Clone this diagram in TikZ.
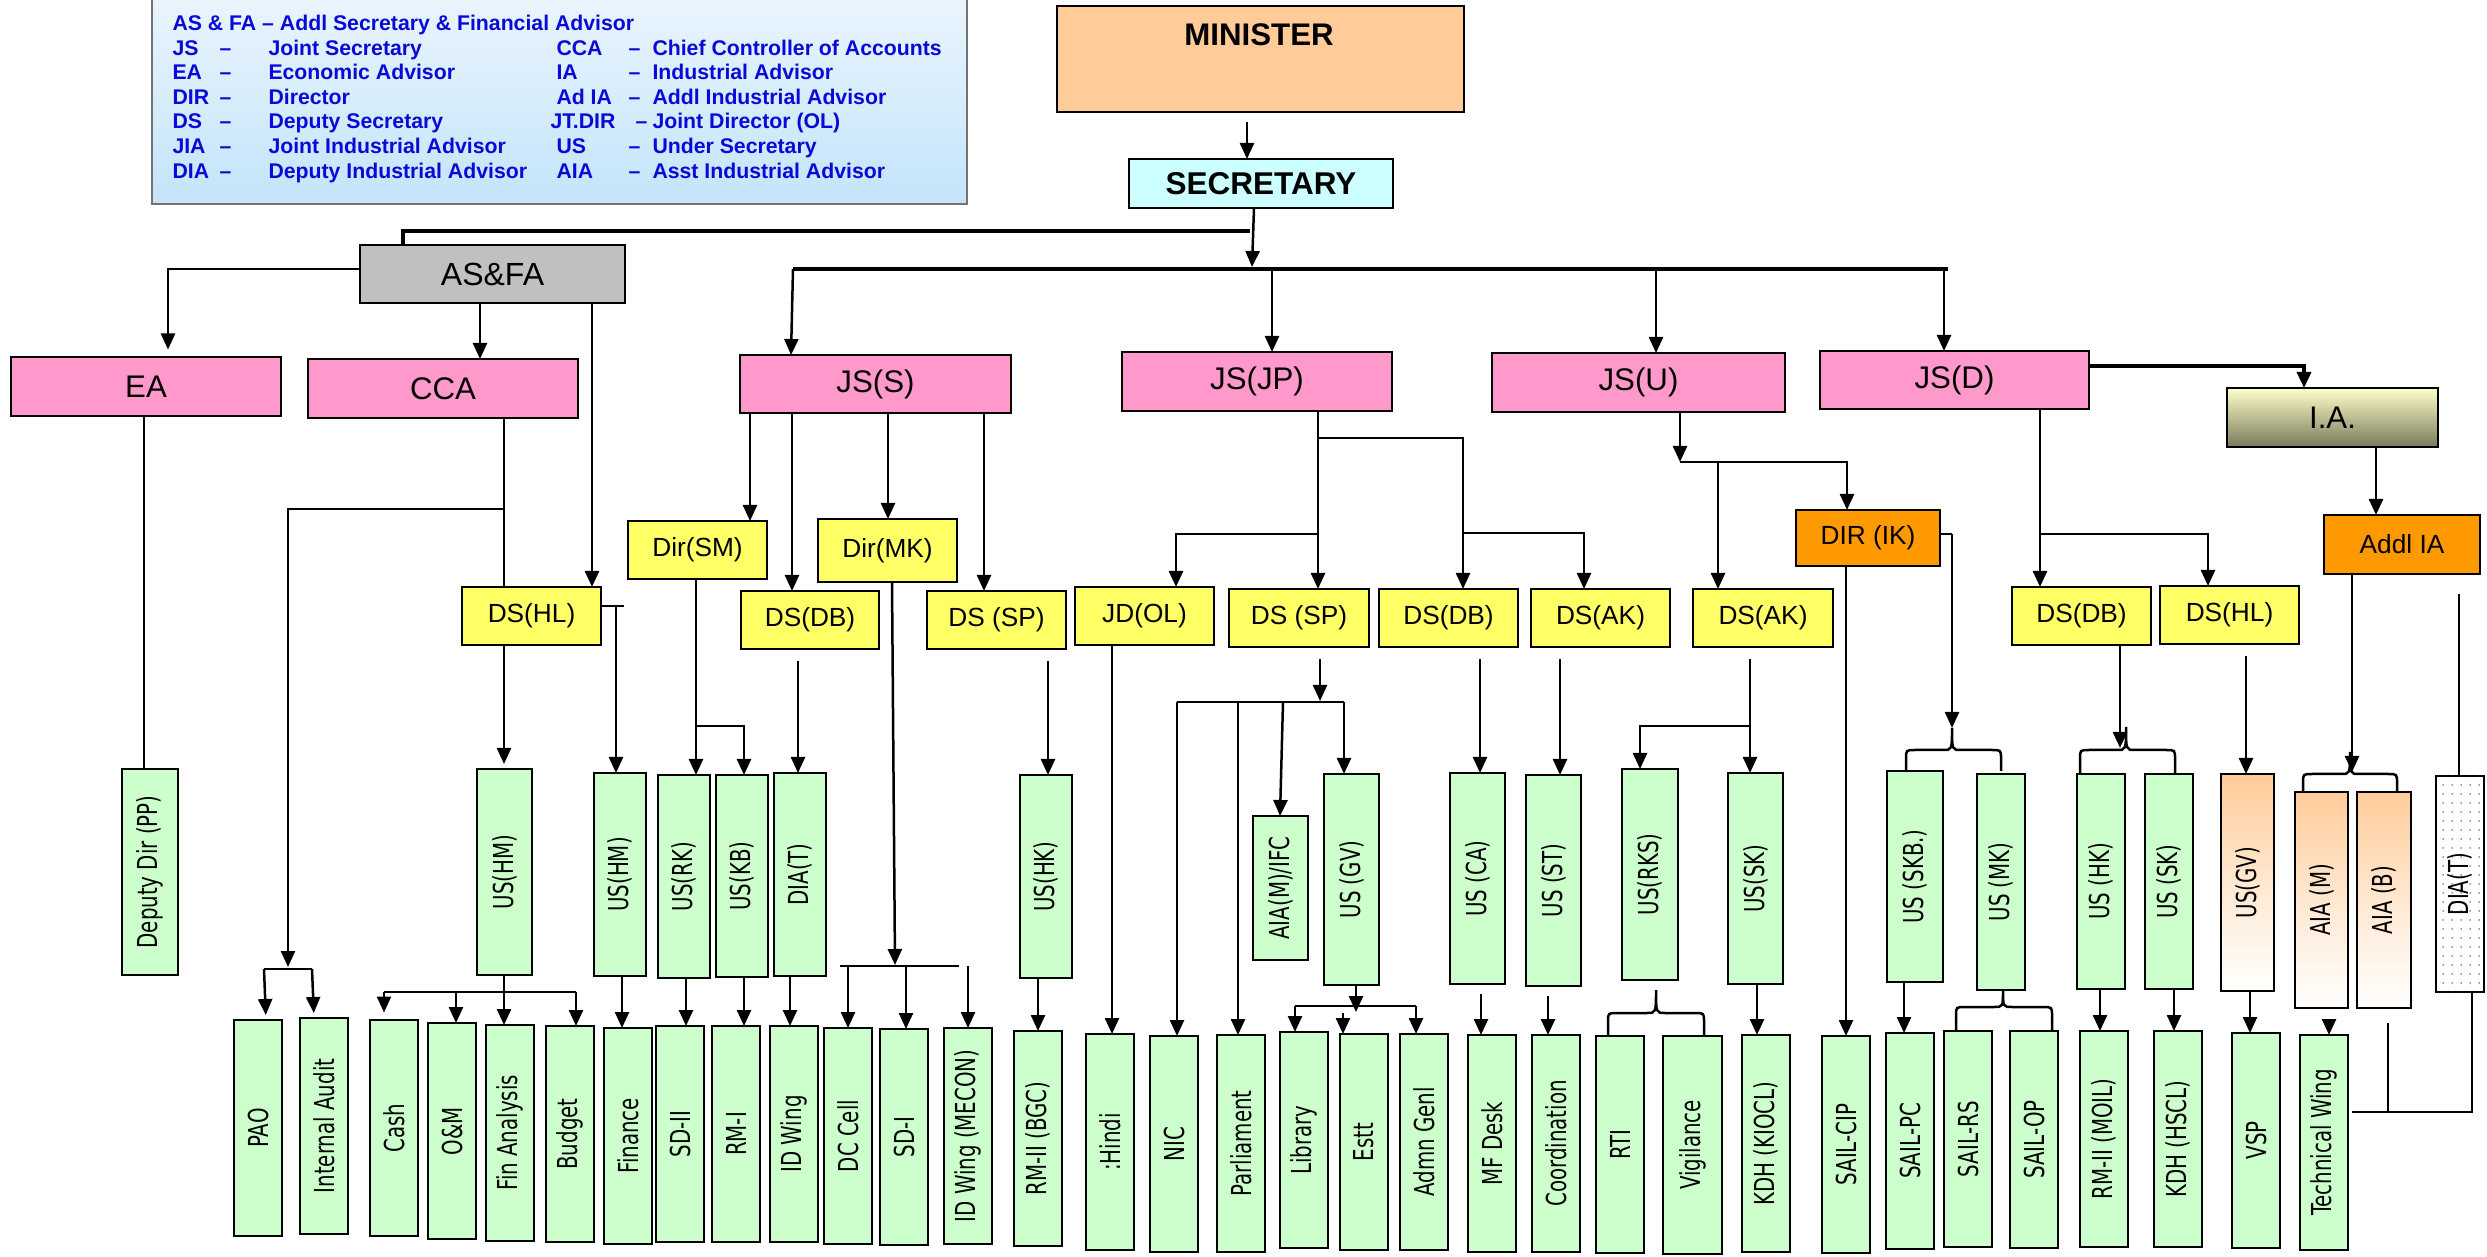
\documentclass[tikz,border=0pt]{standalone}
\usepackage{fontspec}
\setmainfont{Liberation Sans}
\newfontfamily\dejavu{DejaVu Sans}
\usetikzlibrary{arrows.meta,patterns}
\definecolor{pinkc}{HTML}{FF99CC}
\definecolor{yelc}{HTML}{FFFF66}
\definecolor{grnc}{HTML}{CCFFCC}
\definecolor{orgc}{HTML}{FF9900}
\definecolor{peachc}{HTML}{FFCC99}
\definecolor{cyanc}{HTML}{CCFFFF}
\definecolor{grayc}{HTML}{C0C0C0}
\definecolor{legtop}{HTML}{EAF5FD}
\definecolor{legbot}{HTML}{C4E4FA}
\definecolor{legtxt}{HTML}{0A0AD8}
\definecolor{iatop}{HTML}{FFFFCC}
\definecolor{iabot}{HTML}{7A7A5A}
\pgfdeclarepatternformonly{sparsedots}{\pgfpointorigin}{\pgfqpoint{3.6pt}{3.6pt}}{\pgfqpoint{3.6pt}{3.6pt}}{%
  \pgfpathcircle{\pgfqpoint{1.8pt}{1.8pt}}{0.35pt}\pgfusepath{fill}}
\newcommand\vt[1]{\rotatebox{90}{\scalebox{0.72}[1]{#1}}}
\newcommand\bx[7]{%
  \pgfmathsetmacro\bxw{(#4-#2)*0.4}%
  \pgfmathsetmacro\bxh{(#5-#3)*0.4}%
  \node[box,#6,minimum width=\bxw pt,minimum height=\bxh pt] (#1) at ({(#2+#4)/2},{(#3+#5)/2}) {#7};}
\newcommand\vb[7]{\bx{#1}{#2}{#3}{#4}{#5}{#6}{\vt{#7}}}
\newcommand\cbr[6]{%
  \draw[conn] (#1,#6) -- (#1,{#5+9}) .. controls (#1,#5) .. ({#1+9},#5) -- ({#2-9},#5)
    .. controls (#2,#5) .. (#2,#4) .. controls (#2,#5) .. ({#2+9},#5) -- ({#3-9},#5)
    .. controls (#3,#5) .. (#3,{#5+9}) -- (#3,#6);}
\begin{document}
\begin{tikzpicture}[x=0.4pt,y=-0.4pt,
  box/.style={draw=black,line width=0.9pt,inner sep=0pt,outer sep=0pt,align=center},
  pinkbox/.style={fill=pinkc,font=\fontsize{12.5}{15}\selectfont},
  yelbox/.style={fill=yelc,font=\fontsize{10.5}{13}\selectfont},
  orgbox/.style={fill=orgc,font=\fontsize{10.5}{13}\selectfont},
  grnbox/.style={fill=grnc,font=\dejavu\fontsize{11}{13}\selectfont},
  fadebox/.style={top color=peachc,bottom color=white,middle color=peachc!45!white,font=\dejavu\fontsize{11}{13}\selectfont},
  dotbox/.style={fill=white,postaction={pattern=sparsedots,pattern color=black!80},font=\dejavu\fontsize{11}{13}\selectfont},
  conn/.style={line width=1pt},
  bus/.style={line width=1.4pt},
  arr/.style={conn,-{Triangle[length=6.4pt,width=5.6pt]}},
  lg/.style={font=\bfseries\fontsize{8.5}{10}\selectfont,text=legtxt,anchor=base west,inner sep=0pt}]
\useasboundingbox (0,0) rectangle (2487,1257);

% ---------- legend ----------
\bx{legend}{152}{-5}{967}{204}{draw=black!55,line width=0.7pt,top color=legtop,bottom color=legbot}{}
\node[lg] (lgA) at (172,31) {AS \& FA – Addl Secretary \& Financial Advisor};
\foreach \a/\m/\y/\i in {JS/Joint Secretary/56/1,EA/Economic Advisor/80/2,DIR/Director/105/3,DS/Deputy Secretary/129/4,JIA/Joint Industrial Advisor/154/5,DIA/Deputy Industrial Advisor/179/6}{
  \node[lg] (lgla\i) at (172,\y) {\a};
  \node[lg] (lgld\i) at (219,\y) {–};
  \node[lg] (lglm\i) at (268,\y) {\m};
}
\foreach \a/\m/\y/\i in {CCA/Chief Controller of Accounts/56/1,IA/Industrial Advisor/80/2,Ad IA/Addl Industrial Advisor/105/3,US/Under Secretary/154/5,AIA/Asst Industrial Advisor/179/6}{
  \node[lg] (lgra\i) at (556,\y) {\a};
  \node[lg] (lgrd\i) at (628,\y) {–};
  \node[lg] (lgrm\i) at (652,\y) {\m};
}
\node[lg] (lgra4) at (550,129) {JT.DIR};
\node[lg] (lgrd4) at (635,129) {–};
\node[lg] (lgrm4) at (652,129) {Joint Director (OL)};

% ---------- top ----------
\bx{min}{1057}{6}{1464}{112}{fill=peachc}{}
\node[font=\bfseries\fontsize{12.5}{15}\selectfont,inner sep=0pt] (mint) at (1259,35) {MINISTER};
\bx{sec}{1129}{159}{1393}{208}{fill=cyanc,font=\bfseries\fontsize{12.6}{15}\selectfont}{SECRETARY}
\bx{asfa}{360}{245}{625}{303}{fill=grayc,font=\fontsize{12.8}{15}\selectfont}{AS\&FA}
\bx{ea}{11}{357}{281}{416}{pinkbox}{EA}
\bx{cca}{308}{359}{578}{418}{pinkbox}{CCA}
\bx{jss}{740}{355}{1011}{413}{pinkbox}{JS(S)}
\bx{jsjp}{1122}{352}{1392}{411}{pinkbox}{JS(JP)}
\bx{jsu}{1492}{353}{1785}{412}{pinkbox}{JS(U)}
\bx{jsd}{1820}{351}{2089}{409}{pinkbox}{JS(D)}
\bx{ia}{2227}{388}{2438}{447}{top color=iatop,bottom color=iabot,font=\fontsize{12.5}{15}\selectfont}{I.A.}
\bx{addlia}{2324}{515}{2480}{574}{orgbox}{Addl IA}

% ---------- yellow level ----------
\bx{dshla}{462}{587}{601}{645}{yelbox}{DS(HL)}
\bx{dirsm}{628}{521}{767}{579}{yelbox}{Dir(SM)}
\bx{dirmk}{818}{519}{957}{582}{yelbox}{Dir(MK)}
\bx{dsdba}{741}{591}{879}{649}{yelbox}{DS(DB)}
\bx{dsspa}{927}{591}{1066}{649}{yelbox}{DS (SP)}
\bx{jdol}{1075}{587}{1214}{645}{yelbox}{JD(OL)}
\bx{dsspb}{1229}{589}{1369}{647}{yelbox}{DS (SP)}
\bx{dsdbb}{1379}{589}{1518}{647}{yelbox}{DS(DB)}
\bx{dsaka}{1531}{589}{1670}{647}{yelbox}{DS(AK)}
\bx{dsakb}{1693}{589}{1833}{647}{yelbox}{DS(AK)}
\bx{dirik}{1796}{510}{1940}{566}{orgbox}{DIR (IK)}
\bx{dsdbc}{2012}{587}{2151}{645}{yelbox}{DS(DB)}
\bx{dshlb}{2160}{586}{2299}{644}{yelbox}{DS(HL)}

% ---------- middle vertical boxes ----------
\vb{ddpp}{122}{769}{178}{975}{grnbox}{Deputy Dir (PP)}
\vb{ushma}{477}{769}{532}{975}{grnbox}{US(HM)}
\vb{ushmb}{594}{773}{646}{976}{grnbox}{US(HM)}
\vb{usrk}{658}{775}{710}{978}{grnbox}{US(RK)}
\vb{uskb}{716}{775}{768}{977}{grnbox}{US(KB)}
\vb{diata}{774}{773}{826}{976}{grnbox}{DIA(T)}
\vb{ushka}{1020}{775}{1072}{978}{grnbox}{US(HK)}
\vb{aiaifc}{1253}{816}{1308}{960}{grnbox}{AIA(M)/IFC}
\vb{usgva}{1324}{774}{1379}{985}{grnbox}{US (GV)}
\vb{usca}{1450}{773}{1505}{984}{grnbox}{US (CA)}
\vb{usst}{1526}{775}{1581}{986}{grnbox}{US (ST)}
\vb{usrks}{1622}{769}{1678}{980}{grnbox}{US(RKS)}
\vb{usska}{1728}{773}{1783}{984}{grnbox}{US(SK)}
\vb{usskb}{1887}{771}{1943}{982}{grnbox}{US (SKB.)}
\vb{usmk}{1977}{774}{2025}{990}{grnbox}{US (MK)}
\vb{ushkb}{2077}{774}{2125}{989}{grnbox}{US (HK)}
\vb{usskc}{2145}{774}{2193}{989}{grnbox}{US (SK)}
\vb{usgvb}{2221}{774}{2274}{991}{fadebox}{US(GV)}
\vb{aiam}{2295}{792}{2348}{1008}{fadebox}{AIA (M)}
\vb{aiab}{2357}{792}{2411}{1008}{fadebox}{AIA (B)}
\vb{diatb}{2436}{776}{2484}{992}{dotbox}{DIA(T)}

% ---------- bottom boxes ----------
\vb{pao}{234}{1020}{282}{1236}{grnbox}{PAO}
\vb{iaud}{300}{1018}{348}{1234}{grnbox}{Internal Audit}
\vb{cash}{370}{1020}{418}{1236}{grnbox}{Cash}
\vb{om}{428}{1023}{476}{1239}{grnbox}{O\&M}
\vb{fina}{486}{1025}{534}{1241}{grnbox}{Fin Analysis}
\vb{budget}{546}{1026}{594}{1242}{grnbox}{Budget}
\vb{finance}{604}{1028}{652}{1244}{grnbox}{Finance}
\vb{sdii}{656}{1026}{704}{1242}{grnbox}{SD-II}
\vb{rmi}{712}{1026}{760}{1242}{grnbox}{RM-I}
\vb{idw}{770}{1026}{818}{1242}{grnbox}{ID Wing}
\vb{dccell}{824}{1028}{872}{1244}{grnbox}{DC Cell}
\vb{sdi}{880}{1029}{928}{1245}{grnbox}{SD-I}
\vb{mecon}{944}{1028}{992}{1244}{grnbox}{ID Wing (MECON)}
\vb{rmbgc}{1014}{1031}{1062}{1246}{grnbox}{RM-II (BGC)}
\vb{hindi}{1086}{1034}{1134}{1250}{grnbox}{:Hindi}
\vb{nic}{1150}{1036}{1198}{1252}{grnbox}{NIC}
\vb{parl}{1217}{1035}{1265}{1252}{grnbox}{Parliament}
\vb{lib}{1280}{1032}{1328}{1248}{grnbox}{Library}
\vb{estt}{1340}{1034}{1388}{1250}{grnbox}{Estt}
\vb{admn}{1400}{1034}{1448}{1250}{grnbox}{Admn Genl}
\vb{mf}{1468}{1035}{1516}{1252}{grnbox}{MF Desk}
\vb{coord}{1532}{1035}{1580}{1252}{grnbox}{Coordination}
\vb{rti}{1596}{1036}{1644}{1253}{grnbox}{RTI}
\vb{vig}{1663}{1036}{1722}{1254}{grnbox}{Vigilance}
\vb{kdhk}{1742}{1035}{1790}{1252}{grnbox}{KDH (KIOCL)}
\vb{cip}{1822}{1036}{1870}{1253}{grnbox}{SAIL-CIP}
\vb{pc}{1886}{1033}{1934}{1249}{grnbox}{SAIL-PC}
\vb{rs}{1944}{1031}{1992}{1247}{grnbox}{SAIL-RS}
\vb{op}{2010}{1031}{2058}{1248}{grnbox}{SAIL-OP}
\vb{moil}{2080}{1031}{2128}{1247}{grnbox}{RM-II (MOIL)}
\vb{hscl}{2154}{1031}{2202}{1247}{grnbox}{KDH (HSCL)}
\vb{vsp}{2232}{1033}{2280}{1248}{grnbox}{VSP}
\vb{tw}{2300}{1035}{2348}{1250}{grnbox}{Technical Wing}

% ---------- connectors: top ----------
\draw[arr,shorten <=4pt] (min.south -| 1247,0) -- (sec.north -| 1247,0);
\coordinate (secbus) at (1252,267);
\draw[arr] (sec.south -| 1254,0) -- (secbus);
\coordinate (busA) at (1250,231);
\draw[bus] (asfa.north -| 403,0) |- (busA);
\coordinate (busBl) at (793,269);
\coordinate (busBr) at (1948,269);
\draw[bus] (busBl) -- (busBr);
\draw[arr] (busBl) -- (jss.north -| 791,0);
\draw[arr] (busBl -| 1272,0) -- (jsjp.north -| 1272,0);
\draw[arr] (busBl -| 1656,0) -- (jsu.north -| 1656,0);
\draw[arr] (busBl -| 1944,0) -- (jsd.north -| 1944,0);

% AS&FA branch
\draw[arr,shorten >=3pt] (asfa.west |- 0,269) -| (ea.north -| 168,0);
\draw[arr] (asfa.south -| 480,0) -- (cca.north -| 480,0);
\draw[arr] (asfa.south -| 592,0) -- (dshla.north -| 592,0);
\draw[conn] (ea.south -| 144,0) -- (ddpp.north -| 144,0);
\draw[conn] (cca.south -| 504,0) -- (dshla.north -| 504,0);
\coordinate (ccaL) at (504,509);
\coordinate (paoB) at (288,967);
\draw[arr] (ccaL) -| (paoB);
\coordinate (paoL) at (264,969);
\coordinate (paoR) at (312,969);
\draw[conn] (paoL) -- (paoR);
\draw[arr,shorten >=2pt] (paoL) -- (pao.north -| 266,0);
\draw[arr,shorten >=2pt] (paoR) -- (iaud.north -| 314,0);
\draw[arr,shorten >=2pt] (dshla.south -| 504,0) -- (ushma.north -| 504,0);
\coordinate (hlstub) at (624,606);
\draw[conn] (dshla.east |- hlstub) -- (hlstub);
\draw[arr] (hlstub -| 616,0) -- (ushmb.north -| 616,0);
\coordinate (hmL) at (384,992);
\coordinate (hmR) at (576,992);
\draw[conn] (hmL) -- (hmR);
\draw[arr] (ushma.south -| 504,0) -- (fina.north -| 504,0);
\draw[arr,shorten >=3pt] (hmL) -- (cash.north -| 384,0);
\draw[arr] (hmL -| 456,0) -- (om.north -| 456,0);
\draw[arr] (hmR) -- (budget.north -| 576,0);
\draw[arr] (ushmb.south -| 622,0) -- (finance.north -| 622,0);

% JS(S) branch
\draw[arr] (jss.south -| 750,0) -- (dirsm.north -| 750,0);
\draw[arr] (jss.south -| 792,0) -- (dsdba.north -| 792,0);
\draw[arr] (jss.south -| 888,0) -- (dirmk.north -| 888,0);
\draw[arr] (jss.south -| 984,0) -- (dsspa.north -| 984,0);
\draw[arr] (dirsm.south -| 696,0) -- (usrk.north -| 696,0);
\coordinate (smR) at (696,726);
\draw[arr] (smR) -| (uskb.north -| 744,0);
\draw[arr,shorten <=5pt] (dsdba.south -| 798,0) -- (diata.north -| 798,0);
\coordinate (mkbus) at (895,965);
\draw[arr] (dirmk.south -| 892,0) -- (mkbus);
\coordinate (mkL) at (840,966);
\coordinate (mkR) at (959,966);
\draw[conn] (mkL) -- (mkR);
\draw[arr] (mkL -| 848,0) -- (dccell.north -| 848,0);
\draw[arr] (mkL -| 906,0) -- (sdi.north -| 906,0);
\draw[arr] (mkL -| 968,0) -- (mecon.north -| 968,0);
\draw[arr,shorten <=5pt] (dsspa.south -| 1048,0) -- (ushka.north -| 1048,0);
\draw[arr] (usrk.south -| 686,0) -- (sdii.north -| 686,0);
\draw[arr] (uskb.south -| 744,0) -- (rmi.north -| 744,0);
\draw[arr] (diata.south -| 790,0) -- (idw.north -| 790,0);
\draw[arr] (ushka.south -| 1038,0) -- (rmbgc.north -| 1038,0);

% JS(JP) branch
\draw[arr] (jsjp.south -| 1318,0) -- (dsspb.north -| 1318,0);
\coordinate (jpA) at (1318,438);
\draw[arr] (jpA) -| (dsdbb.north -| 1463,0);
\coordinate (jpB) at (1463,533);
\draw[arr] (jpB) -| (dsaka.north -| 1584,0);
\coordinate (jpC) at (1318,534);
\draw[arr] (jpC) -| (jdol.north -| 1176,0);
\draw[arr] (jdol.south -| 1112,0) -- (hindi.north -| 1112,0);
\coordinate (spbus) at (1320,701);
\draw[arr,shorten <=5pt] (dsspb.south -| 1320,0) -- (spbus);
\coordinate (spL) at (1177,702);
\coordinate (spR) at (1344,702);
\draw[conn] (spL) -- (spR);
\draw[arr] (spL) -- (nic.north -| 1177,0);
\draw[arr] (spL -| 1238,0) -- (parl.north -| 1238,0);
\draw[arr] (spL -| 1283,0) -- (aiaifc.north -| 1280,0);
\draw[arr] (spR) -- (usgva.north -| 1344,0);
\coordinate (gvtip) at (1356,1012);
\draw[arr] (usgva.south -| 1356,0) -- (gvtip);
\coordinate (gvL) at (1295,1006);
\coordinate (gvR) at (1416,1006);
\draw[conn] (gvL) -- (gvR);
\draw[arr] (gvL) -- (lib.north -| 1295,0);
\draw[arr] (gvR) -- (admn.north -| 1416,0);
\draw[arr] (estt.north -| 1343,0) ++(0,-21) -- (estt.north -| 1343,0);
\draw[arr,shorten <=5pt] (dsdbb.south -| 1480,0) -- (usca.north -| 1480,0);
\draw[arr,shorten <=5pt] (dsaka.south -| 1560,0) -- (usst.north -| 1560,0);
\draw[arr,shorten <=4pt] (usca.south -| 1481,0) -- (mf.north -| 1481,0);
\draw[arr,shorten <=4pt] (usst.south -| 1548,0) -- (coord.north -| 1548,0);

% JS(U) branch
\coordinate (ubus) at (1680,462);
\draw[arr] (jsu.south -| 1680,0) -- (ubus);
\draw[arr] (ubus) -| (dirik.north -| 1847,0);
\draw[arr] (ubus -| 1718,0) -- (dsakb.north -| 1718,0);
\draw[arr,shorten <=5pt] (dsakb.south -| 1750,0) -- (usska.north -| 1750,0);
\coordinate (akL) at (1750,726);
\draw[arr] (akL) -| (usrks.north -| 1640,0);
\cbr{1608}{1656}{1704}{990}{1013}{1036}
\draw[arr] (usska.south -| 1757,0) -- (kdhk.north -| 1757,0);
\draw[arr] (dirik.south -| 1846,0) -- (cip.north -| 1846,0);
\coordinate (ikR) at (1952,534);
\coordinate (ikT) at (1952,728);
\draw[conn] (dirik.east |- ikR) -- (ikR);
\draw[arr] (ikR) -- (ikT);
\cbr{1906}{1952}{2001}{728}{750}{771}
\draw[arr] (usskb.south -| 1904,0) -- (pc.north -| 1904,0);
\cbr{1956}{2003}{2052}{990}{1007}{1031}

% JS(D) branch
\draw[arr] (jsd.south -| 2040,0) -- (dsdbc.north -| 2040,0);
\coordinate (jdA) at (2040,534);
\draw[arr] (jdA) -| (dshlb.north -| 2208,0);
\coordinate (jdIA) at (2304,366);
\draw[arr,bus] (jsd.east |- jdIA) -| (ia.north -| 2304,0);
\coordinate (dbT) at (2120,748);
\draw[arr] (dsdbc.south -| 2120,0) -- (dbT);
\cbr{2080}{2126}{2175}{727}{750}{774}
\draw[arr,shorten <=5pt] (dshlb.south -| 2246,0) -- (usgvb.north -| 2246,0);
\draw[arr] (ushkb.south -| 2100,0) -- (moil.north -| 2100,0);
\draw[arr] (usskc.south -| 2174,0) -- (hscl.north -| 2174,0);
\draw[arr] (usgvb.south -| 2250,0) -- (vsp.north -| 2250,0);

% I.A. branch
\draw[arr] (ia.south -| 2376,0) -- (addlia.north -| 2376,0);
\coordinate (aT) at (2352,772);
\draw[arr] (addlia.south -| 2352,0) -- (aT);
\cbr{2303}{2350}{2397}{752}{774}{792}
\draw[conn,shorten <=8pt] (addlia.south -| 2459,0) -- (diatb.north -| 2459,0);
\draw[arr,shorten <=9pt] (aiam.south -| 2329,0) -- (tw.north -| 2329,0);
\coordinate (twR) at (2472,1112);
\draw[conn] (tw.east |- twR) ++(4,0) -- (twR) -- (diatb.south -| twR);
\draw[conn,shorten <=6pt] (aiab.south -| 2388,0) -- (twR -| 2388,0);
\end{tikzpicture}
\end{document}
